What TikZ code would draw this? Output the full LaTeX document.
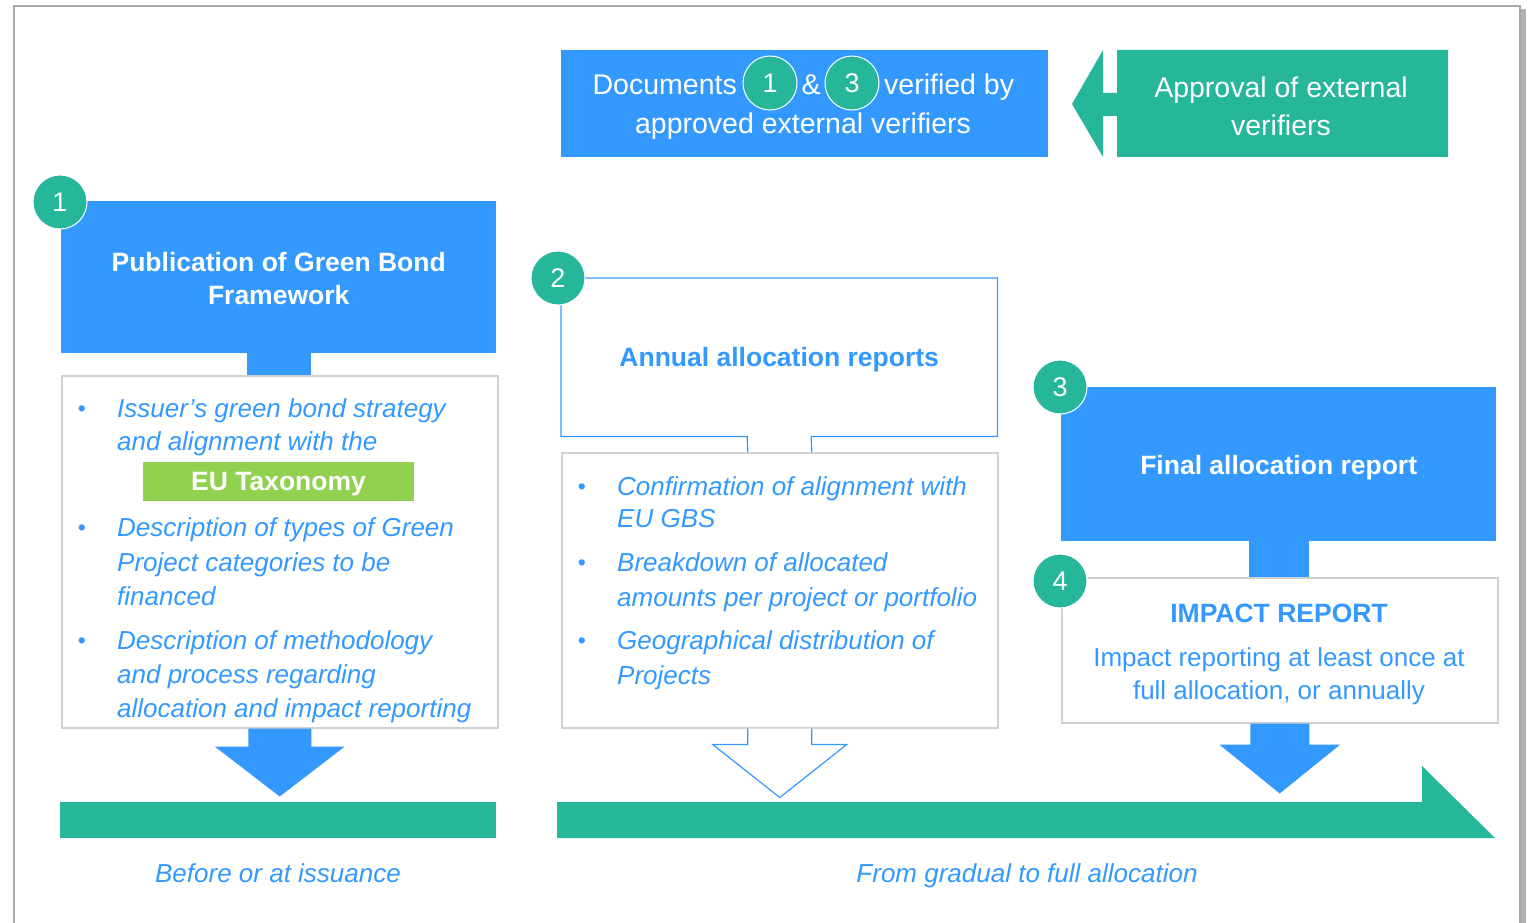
\documentclass[tikz,border=0pt]{standalone}
\usepackage{fontspec}
\setmainfont{Liberation Sans}
\usetikzlibrary{calc}
\definecolor{ebblue}{HTML}{3399FF}
\definecolor{ebgreen}{HTML}{26B79A}
\definecolor{eblime}{HTML}{92D050}
\definecolor{ebgray}{HTML}{D0D0D0}
\definecolor{ebframe}{HTML}{A8A8A8}
\newcommand{\ebbody}{\fontsize{26}{32}\selectfont}
\newcommand{\ebhead}{\fontsize{26.5}{33}\selectfont\bfseries}
\newcommand{\ebtop}{\fontsize{28.5}{38}\selectfont}
\begin{document}
\begin{tikzpicture}[x=1pt,y=-1pt,
  bluebox/.style={fill=ebblue,draw=none,inner sep=0pt,anchor=north west},
  outbox/.style={fill=white,draw=ebgray,line width=1.5pt,inner sep=0pt,anchor=north west},
  numcirc/.style={circle,fill=ebgreen,draw=white,line width=1pt,minimum size=54pt,inner sep=0pt,text=white,font=\fontsize{27}{30}\selectfont},
  itl/.style={inner sep=0pt,anchor=base west,text=ebblue,font=\ebbody\itshape},
  bul/.style={inner sep=0pt,anchor=base,text=ebblue,font=\fontsize{23}{24}\selectfont},
  toptxt/.style={inner sep=0pt,anchor=base,text=white,font=\ebtop},
]
\useasboundingbox (0,0) rectangle (1529,923);
\fill[white] (0,0) rectangle (1529,923);
% frame with shadow
\fill[black!30] (1521,9) rectangle (1526,923);
\draw[ebframe,line width=1.5pt] (14,923) -- (14,6) -- (1520,6) -- (1520,923);

% ---------- top: documents verified ----------
\node[bluebox,minimum width=487pt,minimum height=107pt] (docs) at (561,50) {};
\node[toptxt,anchor=base east] (docsA) at (737,95) {Documents};
\node[toptxt] (docsB) at (811,95) {\&};
\node[toptxt,anchor=base west] (docsC) at (884,95) {verified by};
\node[toptxt] (docsD) at (803,134) {approved external verifiers};
\node[numcirc] (ic1) at (770,83) {1};
\node[numcirc] (ic3) at (852,83) {3};

% approval arrow
\fill[ebgreen] (1072,104) -- (1103,50) -- (1103,93) -- (1117,93) -- (1117,50) -- (1448,50)
  -- (1448,157) -- (1117,157) -- (1117,116) -- (1103,116) -- (1103,157) -- cycle;
\node[inner sep=0pt,text=white,font=\ebtop,align=center] (appr) at (1281,106) {Approval of external\\verifiers};

% ---------- column 1 ----------
\node[bluebox,minimum width=435pt,minimum height=152pt] (pub) at (61,201) {};
\node[inner sep=0pt,text=white,font=\ebhead,align=center] (pubt) at ($(pub.center)+(0,1)$) {Publication of Green Bond\\Framework};
\node[outbox,minimum width=436pt,minimum height=352pt] (box1) at (61,375) {};
\fill[ebblue] ($(pub.south)+(-31.5,0)$) rectangle ($(box1.north)+(31.5,0)$);
\node[numcirc] (c1) at (60,202) {1};

\node[bul] (b1a) at (82,416) {•};
\node[itl] (l1a) at (117,417) {Issuer’s green bond strategy};
\node[itl] (l1b) at (117,450) {and alignment with the};
\node[fill=eblime,minimum width=271pt,minimum height=39pt,inner sep=0pt,text depth=0pt,text=white,font=\ebhead] (eutax) at (278.5,481.5) {EU Taxonomy};
\node[bul] (b1b) at (82,535) {•};
\node[itl] (l1c) at (117,536) {Description of types of Green};
\node[itl] (l1d) at (117,571) {Project categories to be};
\node[itl] (l1e) at (117,605) {financed};
\node[bul] (b1c) at (82,648) {•};
\node[itl] (l1f) at (117,649) {Description of methodology};
\node[itl] (l1g) at (117,683) {and process regarding};
\node[itl] (l1h) at (117,717) {allocation and impact reporting};

\fill[ebblue] ($(box1.south)+(-31.5,0)$) -- ($(box1.south)+(-31.5,18)$) -- ($(box1.south)+(-65,18)$)
  -- ($(box1.south)+(0,68)$) -- ($(box1.south)+(65,18)$) -- ($(box1.south)+(31.5,18)$)
  -- ($(box1.south)+(31.5,0)$) -- cycle;
\fill[ebgreen] (60,802) rectangle (496,838);
\node[inner sep=0pt,anchor=base,text=ebblue,font=\ebbody\itshape] (lab1) at (278,882) {Before or at issuance};

% ---------- column 2 ----------
\node[inner sep=0pt,minimum width=436pt,minimum height=158pt,anchor=north west] (ann) at (561,278) {};
\node[outbox,minimum width=436pt,minimum height=275pt] (box2) at (561,452) {};
\draw[ebblue,line width=1.3pt] ($(box2.north)+(-32,0)$) -- ($(ann.south)+(-32,0)$) -- (ann.south west)
  -- (ann.north west) -- (ann.north east) -- (ann.south east) -- ($(ann.south)+(32,0)$) -- ($(box2.north)+(32,0)$);
\node[inner sep=0pt,text depth=0pt,text=ebblue,font=\ebhead] (annt) at (ann.center) {Annual allocation reports};
\node[numcirc] (c2) at (558,278) {2};

\node[bul] (b2a) at (582,494) {•};
\node[itl] (l2a) at (617,495) {Confirmation of alignment with};
\node[itl] (l2b) at (617,527) {EU GBS};
\node[bul] (b2b) at (582,570) {•};
\node[itl] (l2c) at (617,571) {Breakdown of allocated};
\node[itl] (l2d) at (617,606) {amounts per project or portfolio};
\node[bul] (b2c) at (582,648) {•};
\node[itl] (l2e) at (617,649) {Geographical distribution of};
\node[itl] (l2f) at (617,684) {Projects};

\draw[ebblue,fill=white,line width=1.2pt] ($(box2.south)+(-32,0)$) -- ($(box2.south)+(-32,16)$) -- ($(box2.south)+(-67,16)$)
  -- ($(box2.south)+(0,69)$) -- ($(box2.south)+(67,16)$) -- ($(box2.south)+(32,16)$)
  -- ($(box2.south)+(32,0)$);

\fill[ebgreen] (557,802) -- (1422,802) -- (1422,766) -- (1495,838) -- (557,838) -- cycle;
\node[inner sep=0pt,anchor=base,text=ebblue,font=\ebbody\itshape] (lab2) at (1027,882) {From gradual to full allocation};

% ---------- column 3 ----------
\node[bluebox,minimum width=435pt,minimum height=154pt] (fin) at (1061,387) {};
\node[inner sep=0pt,text depth=0pt,text=white,font=\ebhead] (fint) at ($(fin.center)+(0,1)$) {Final allocation report};
\node[outbox,minimum width=436pt,minimum height=145pt] (box4) at (1061,577) {};
\fill[ebblue] ($(fin.south)+(-29.5,0)$) rectangle ($(box4.north)+(29.5,0)$);
\node[numcirc] (c3) at (1060,387) {3};
\node[numcirc] (c4) at (1060,581) {4};
\node[inner sep=0pt,anchor=base,text=ebblue,font=\ebhead] (imp) at (1279,622) {IMPACT REPORT};
\node[inner sep=0pt,anchor=base,text=ebblue,font=\ebbody] (impa) at (1279,666) {Impact reporting at least once at};
\node[inner sep=0pt,anchor=base,text=ebblue,font=\ebbody] (impb) at (1279,699) {full allocation, or annually};

\fill[ebblue] ($(box4.south)+(-29.5,0)$) -- ($(box4.south)+(-29.5,21)$) -- ($(box4.south)+(-60.5,21)$)
  -- ($(box4.south)+(0,70)$) -- ($(box4.south)+(60.5,21)$) -- ($(box4.south)+(29.5,21)$)
  -- ($(box4.south)+(29.5,0)$) -- cycle;
\end{tikzpicture}
\end{document}
